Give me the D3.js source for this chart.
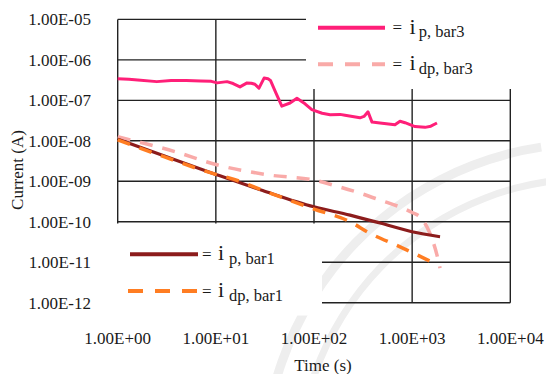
<!DOCTYPE html>
<html>
<head>
<meta charset="utf-8">
<script src="https://cdn.jsdelivr.net/npm/d3@7"></script>
<style>
  html, body { margin: 0; padding: 0; background: #ffffff; }
  svg { display: block; }
  text { font-family: "Liberation Serif", "Times New Roman", serif; fill: #1a1a1a; }
</style>
</head>
<body>
<svg id="chart" width="546" height="374"></svg>
<script>
// ---------- data ----------
const xTickValues = [1, 10, 100, 1000, 10000];
const xTickLabels = ["1.00E+00", "1.00E+01", "1.00E+02", "1.00E+03", "1.00E+04"];
const yTickValues = [1e-5, 1e-6, 1e-7, 1e-8, 1e-9, 1e-10, 1e-11, 1e-12];
const yTickLabels = ["1.00E-05", "1.00E-06", "1.00E-07", "1.00E-08", "1.00E-09", "1.00E-10", "1.00E-11", "1.00E-12"];

// i_p,bar3 (time s, current A)
const ipBar3T = [1, 1.3, 1.6, 2.5, 3.5, 5, 7, 9, 10.3, 13, 15, 17.6, 20.8, 23, 25, 27.5, 31, 34, 36, 41, 47, 57, 67, 81, 95, 121, 146, 184, 207, 294, 323, 355, 390, 470, 668, 752, 846, 1069, 1352, 1550, 1791];
const ipBar3I = [3.4e-7, 3.3e-7, 3.2e-7, 2.9e-7, 3.1e-7, 3.1e-7, 3.0e-7, 2.95e-7, 2.7e-7, 2.9e-7, 2.6e-7, 2.15e-7, 2.7e-7, 2.65e-7, 2.5e-7, 2.0e-7, 3.55e-7, 3.4e-7, 3.1e-7, 1.5e-7, 7.2e-8, 8.6e-8, 1.12e-7, 8.2e-8, 5.9e-8, 4.8e-8, 4.4e-8, 4.5e-8, 4.3e-8, 3.7e-8, 4.0e-8, 5.2e-8, 2.9e-8, 2.75e-8, 2.5e-8, 3.05e-8, 2.8e-8, 2.25e-8, 2.15e-8, 2.3e-8, 2.75e-8];

// i_dp,bar3
const idpBar3T = [1, 3.84, 10, 35.7, 100, 184, 294, 471, 846, 1000, 1250, 1500, 1791, 1923];
const idpBar3I = [1.26e-8, 5.4e-9, 2.59e-9, 1.42e-9, 1.07e-9, 7.2e-10, 5.1e-10, 3.43e-10, 2.06e-10, 1.7e-10, 1.2e-10, 5.5e-11, 1.5e-11, 7.1e-12];

// i_p,bar1
const ipBar1T = [1, 3, 10, 30, 100, 233, 471, 996, 1923];
const ipBar1I = [1.1e-8, 4.2e-9, 1.48e-9, 5.9e-10, 2.34e-10, 1.46e-10, 9.3e-11, 5.65e-11, 4.25e-11];

// i_dp,bar1
const idpBar1T = [1, 3, 10, 13.9, 35.7, 100, 233, 371, 753, 1446, 1600];
const idpBar1I = [1.05e-8, 4.0e-9, 1.48e-9, 1.2e-9, 5.1e-10, 2.06e-10, 1.0e-10, 5.2e-11, 2.4e-11, 1.13e-11, 1.0e-11];

const seriesNames = ["p, bar3", "dp, bar3", "p, bar1", "dp, bar1"];
const seriesColors = ["#ff1f78", "#f9aaa8", "#8c1c1c", "#ff7d22"];

// ---------- layout ----------
const svg = d3.select("#chart");
const x = d3.scaleLog().domain([1, 1e4]).range([117.7, 510.3]);
const y = d3.scaleLog().domain([1e-12, 1e-5]).range([302.7, 19.4]);

// faint watermark arcs (background decoration)
const wm = svg.append("g").attr("transform", "translate(590,470)");
[[322, 331], [288, 295]].forEach(([r0, r1]) => {
  wm.append("path")
    .attr("d", d3.arc().innerRadius(r0).outerRadius(r1).startAngle(-Math.PI * 0.6).endAngle(-0.15)())
    .attr("fill", "#eeeeee");
});

// grid lines
const grid = svg.append("g").attr("stroke", "#222").attr("stroke-width", 1.4);
grid.selectAll("line.v").data(xTickValues).join("line")
  .attr("x1", d => x(d)).attr("x2", d => x(d))
  .attr("y1", y(1e-5)).attr("y2", y(1e-12));
grid.selectAll("line.h").data(yTickValues).join("line")
  .attr("x1", x(1)).attr("x2", x(1e4))
  .attr("y1", d => y(d)).attr("y2", d => y(d));

// legend boxes (white, covering grid)
svg.append("rect").attr("x", 306).attr("y", 0).attr("width", 210).attr("height", 89).attr("fill", "#fff");
svg.append("rect").attr("x", 110).attr("y", 223.5).attr("width", 212).attr("height", 92).attr("rx", 4).attr("fill", "#fff");

// axis tick labels
svg.append("g").selectAll("text").data(yTickValues).join("text")
  .attr("x", 91).attr("y", d => y(d)).attr("dy", "0.35em")
  .attr("text-anchor", "end").attr("font-size", 17)
  .text((d, i) => yTickLabels[i]);
svg.append("g").selectAll("text").data(xTickValues).join("text")
  .attr("x", d => x(d)).attr("y", 343.5)
  .attr("text-anchor", "middle").attr("font-size", 17)
  .text((d, i) => xTickLabels[i]);

// axis titles
svg.append("text").attr("x", 323).attr("y", 371).attr("text-anchor", "middle").attr("font-size", 17).text("Time (s)");
svg.append("text").attr("transform", "translate(23,170) rotate(-90)").attr("text-anchor", "middle").attr("font-size", 17).text("Current (A)");

// series
const line = d3.line().x(d => x(d[0])).y(d => y(d[1]));
const smooth = d3.line().x(d => x(d[0])).y(d => y(d[1])).curve(d3.curveMonotoneX);
const zip = (a, b) => a.map((v, i) => [v, b[i]]);

svg.append("path").datum(zip(idpBar3T, idpBar3I)).attr("d", smooth)
  .attr("fill", "none").attr("stroke", seriesColors[1]).attr("stroke-width", 3.5)
  .attr("stroke-dasharray", "13,10");
svg.append("path").datum(zip(ipBar1T, ipBar1I)).attr("d", smooth)
  .attr("fill", "none").attr("stroke", seriesColors[2]).attr("stroke-width", 3.2);
svg.append("path").datum(zip(idpBar1T, idpBar1I)).attr("d", smooth)
  .attr("fill", "none").attr("stroke", seriesColors[3]).attr("stroke-width", 3.5)
  .attr("stroke-dasharray", "13,10");
svg.append("path").datum(zip(ipBar3T, ipBar3I)).attr("d", line)
  .attr("fill", "none").attr("stroke", seriesColors[0]).attr("stroke-width", 3)
  .attr("stroke-linejoin", "round");

// legends
const legendItems = [
  { lx1: 318, lx2: 385, ly: 27.7, eqx: 392.5, ix: 409.5, sx: 418.7, dash: false, k: 0 },
  { lx1: 318, lx2: 385, ly: 64.3, eqx: 392.5, ix: 409.5, sx: 418.7, dash: true, k: 1 },
  { lx1: 130, lx2: 198, ly: 254.3, eqx: 202, ix: 218, sx: 229, dash: false, k: 2 },
  { lx1: 128, lx2: 198, ly: 291, eqx: 202, ix: 218, sx: 229, dash: true, k: 3 }
];
const lg = svg.append("g");
legendItems.forEach(it => {
  lg.append("line").attr("x1", it.lx1).attr("x2", it.lx2).attr("y1", it.ly).attr("y2", it.ly)
    .attr("stroke", seriesColors[it.k]).attr("stroke-width", 4)
    .attr("stroke-dasharray", it.dash ? "15,12" : null);
  lg.append("text").attr("x", it.eqx).attr("y", it.ly + 5.5).attr("font-size", 17).text("=");
  lg.append("text").attr("x", it.ix).attr("y", it.ly + 6).attr("font-size", 22).text("i");
  lg.append("text").attr("x", it.sx).attr("y", it.ly + 9.5).attr("font-size", 16.5).text(seriesNames[it.k]);
});
</script>
</body>
</html>
